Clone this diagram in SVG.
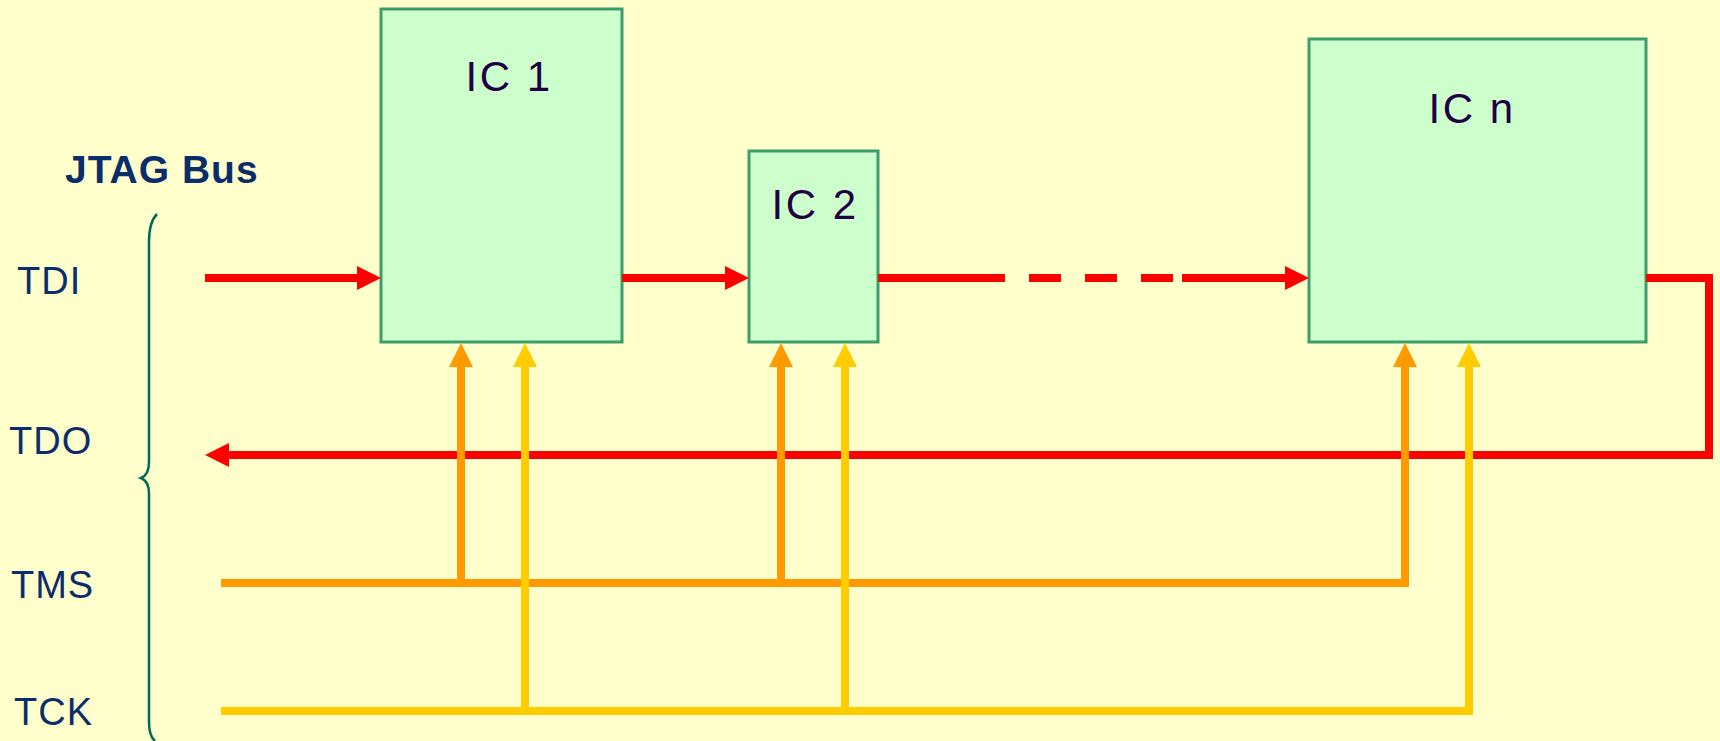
<svg xmlns="http://www.w3.org/2000/svg" width="1720" height="741" viewBox="0 0 1720 741">
<style>
.lbl{font-family:"Liberation Sans",Arial,sans-serif;font-size:38px;fill:#0c2d6b;letter-spacing:1px}
.ttl{font-family:"Liberation Sans",Arial,sans-serif;font-size:39px;font-weight:bold;fill:#0c2d6b;letter-spacing:1px}
.ic{fill:#ccffcc;stroke:#3e9c6c;stroke-width:3}
.ict{font-family:"Liberation Sans",Arial,sans-serif;font-size:42px;fill:#220044;letter-spacing:2.5px;text-anchor:middle}
.r{stroke:#ff0000;stroke-width:8;fill:none}
.o{stroke:#ff9900;stroke-width:8;fill:none}
.y{stroke:#ffcc00;stroke-width:8;fill:none}
</style>
<defs>
<marker id="aR" markerUnits="userSpaceOnUse" markerWidth="24" markerHeight="24" refX="4" refY="12" orient="auto"><path d="M0,0 L24,12 L0,24 z" fill="#ff0000"/></marker>
<marker id="aO" markerUnits="userSpaceOnUse" markerWidth="24" markerHeight="24" refX="4" refY="12" orient="auto"><path d="M0,0 L24,12 L0,24 z" fill="#ff9900"/></marker>
<marker id="aY" markerUnits="userSpaceOnUse" markerWidth="24" markerHeight="24" refX="4" refY="12" orient="auto"><path d="M0,0 L24,12 L0,24 z" fill="#ffcc00"/></marker>
</defs>
<rect x="0" y="0" width="1720" height="741" fill="#ffffcc"/>

<g id="bus-labels">
<text class="ttl" x="65" y="183">JTAG Bus</text>
<text class="lbl" x="17" y="294">TDI</text>
<text class="lbl" x="9" y="454">TDO</text>
<text class="lbl" x="11" y="598">TMS</text>
<text class="lbl" x="14" y="725">TCK</text>
<path d="M157,214 Q149,222 149,242 L149,462 Q149,475 141,478 Q149,481 149,494 L149,722 Q149,736 155,741" fill="none" stroke="#006a5a" stroke-width="2.5"/>
</g>

<g id="ic1">
<rect class="ic" x="381" y="9" width="241" height="333"/>
<text class="ict" x="509" y="91">IC 1</text>
</g>
<g id="ic2">
<rect class="ic" x="749" y="151" width="129" height="191"/>
<text class="ict" x="815" y="219">IC 2</text>
</g>
<g id="icn">
<rect class="ic" x="1309" y="39" width="337" height="303"/>
<text class="ict" x="1472" y="123">IC n</text>
</g>

<g id="connectors">
<line class="o" x1="221" y1="583" x2="1409" y2="583"/>
<line class="y" x1="221" y1="711" x2="1473" y2="711"/>
<line class="r" x1="205" y1="278" x2="361" y2="278" marker-end="url(#aR)"/>
<line class="r" x1="622" y1="278" x2="729" y2="278" marker-end="url(#aR)"/>
<line class="r" x1="878" y1="278" x2="1005" y2="278"/>
<line class="r" x1="1029" y1="278" x2="1173" y2="278" stroke-dasharray="32 24"/>
<line class="r" x1="1182" y1="278" x2="1289" y2="278" marker-end="url(#aR)"/>
<polyline class="r" points="1646,278 1709,278 1709,455 225,455" stroke-linejoin="miter" marker-end="url(#aR)"/>
<line class="o" x1="461" y1="587" x2="461" y2="363" marker-end="url(#aO)"/>
<line class="y" x1="525" y1="715" x2="525" y2="363" marker-end="url(#aY)"/>
<line class="o" x1="781" y1="587" x2="781" y2="363" marker-end="url(#aO)"/>
<line class="y" x1="845" y1="715" x2="845" y2="363" marker-end="url(#aY)"/>
<line class="o" x1="1405" y1="587" x2="1405" y2="363" marker-end="url(#aO)"/>
<line class="y" x1="1469" y1="715" x2="1469" y2="363" marker-end="url(#aY)"/>
</g>
</svg>
